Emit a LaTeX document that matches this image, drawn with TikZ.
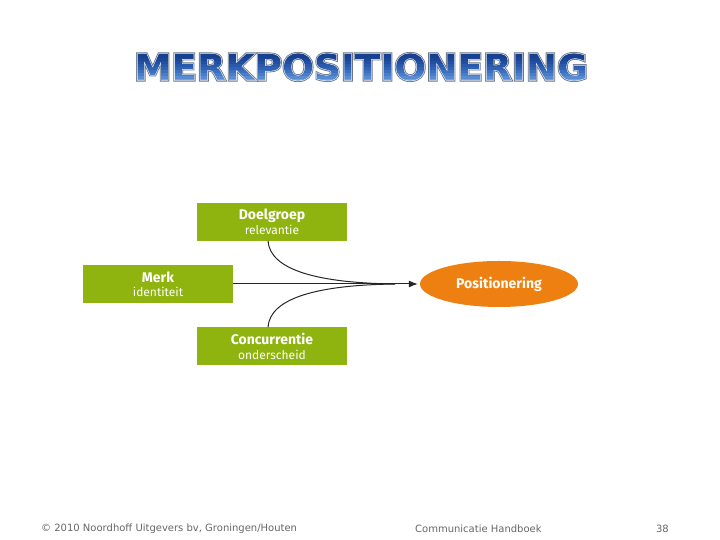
\documentclass[tikz,border=0pt]{standalone}
\usepackage{fontspec}
\setmainfont{DejaVu Sans}
\newfontfamily\boxfont{Fira Sans}
\newfontfamily\titlefont[FakeStretch=1.04]{DejaVu Sans Bold}
\usetikzlibrary{positioning, shapes.geometric, arrows.meta, calc}
\definecolor{merkgreen}{HTML}{8FB30F}
\definecolor{merkorange}{HTML}{EE7F11}
\definecolor{footgray}{HTML}{666666}
% gradient of the title, painted through the letters
\newcommand{\titlebands}{%
	\special{pdf:content
		0.09 0.25 0.56 rg -470 22 490 20 re f
		0.11 0.28 0.60 rg -470 19 490 3 re f
		0.13 0.31 0.63 rg -470 16 490 3 re f
		0.16 0.35 0.67 rg -470 13 490 3 re f
		0.19 0.39 0.71 rg -470 10 490 3 re f
		0.23 0.44 0.75 rg -470 7 490 3 re f
		0.28 0.49 0.79 rg -470 4 490 3 re f
		0.34 0.55 0.83 rg -470 1 490 3 re f
		0.44 0.63 0.88 rg -470 -20 490 21 re f}}
\tikzset{
	titlefont/.style={inner sep=0pt, font=\titlefont\fontsize{36}{40}\selectfont},
	greenbox/.style={fill=merkgreen, minimum width=150pt, minimum height=38pt, inner sep=0pt, align=center, text=white},
	footer/.style={text=footgray, font=\fontsize{10}{12}\selectfont, inner sep=0pt},
	curve/.style={draw=black!85, line width=1pt}
}
\newcommand{\kop}[1]{{\boxfont\fontsize{14}{16}\bfseries\selectfont #1}}
\newcommand{\sub}[1]{{\boxfont\fontsize{12}{16}\selectfont #1}}
\begin{document}
\begin{tikzpicture}[x=1pt, y=1pt]
	\useasboundingbox (0,0) rectangle (720,540);
	% title: outline behind, gradient in front
	\node[titlefont] (titleback) at (361,473)
		{\special{pdf:code 0.42 0.46 0.52 RG 2.8 w 1 Tr}MERKPOSITIONERING\special{pdf:code 0 Tr}};
	\node[titlefont] (titlemid) at (361,473)
		{\special{pdf:code 0.93 0.95 0.98 RG 1.1 w 1 Tr}MERKPOSITIONERING\special{pdf:code 0 Tr}};
	\node[titlefont] (title) at (361,473)
		{\special{pdf:code q 7 Tr}MERKPOSITIONERING\special{pdf:code 0 Tr}\titlebands\special{pdf:code Q}};
	\node[greenbox] (merk) at (158,256) {\kop{Merk}\\[2pt]\sub{identiteit}};
	\node[greenbox, above=24pt of merk, xshift=114pt] (doelgroep) {\kop{Doelgroep}\\[2pt]\sub{relevantie}};
	\node[greenbox, below=24pt of merk, xshift=114pt] (concurrentie) {\kop{Concurrentie}\\[2pt]\sub{onderscheid}};
	\node[ellipse, fill=merkorange, minimum width=158pt, minimum height=46pt, inner sep=0pt, text=white] (positionering) at (499,256) {\kop{Positionering}};
	\coordinate (samen) at (395,256);
	\draw[curve] ([xshift=-4pt]doelgroep.south) .. controls +(2,-30) and (320,257) .. (samen);
	\draw[curve] ([xshift=-4pt]concurrentie.north) .. controls +(2,30) and (320,255) .. (samen);
	\draw[curve, shorten >=2pt, -{Latex[length=9pt, width=7pt]}] (merk) -- (positionering);
	\node[footer, anchor=west] (copyright) at (41,11.5) {© 2010 Noordhoff Uitgevers bv, Groningen/Houten};
	\node[footer, anchor=west] (handboek) at (415,11.5) {Communicatie Handboek};
	\node[footer, anchor=east] (pagina) at (669,11.5) {38};
\end{tikzpicture}
\end{document}
